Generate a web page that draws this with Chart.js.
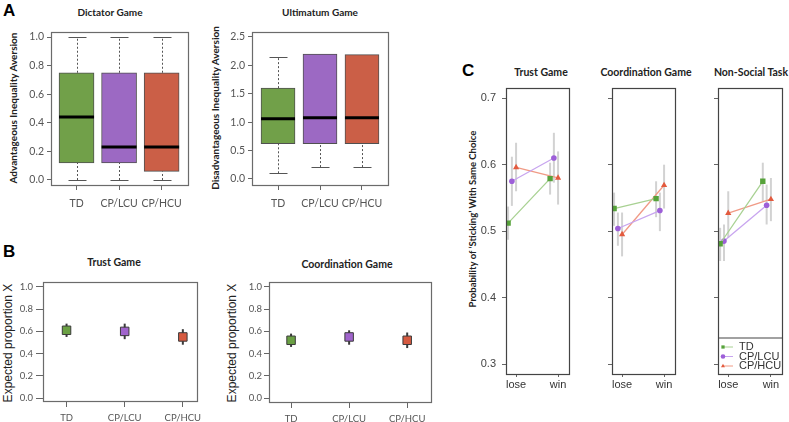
<!DOCTYPE html>
<html>
<head>
<meta charset="utf-8">
<script src="https://cdn.jsdelivr.net/npm/chart.js@4.4.0/dist/chart.umd.min.js"></script>
<style>
  body { margin: 0; background: #fff; width: 789px; height: 422px; overflow: hidden; position: relative; font-family: Lato, sans-serif; }
  canvas { position: absolute; }
  .t { position: absolute; white-space: nowrap; transform: translate(-50%, -50%); color: #222; font-weight: bold; }
  .rot { transform: translate(-50%, -50%) rotate(-90deg); }
  .letter { position: absolute; font: bold 17px "Liberation Sans", Arial, sans-serif; color: #000; }
</style>
</head>
<body>
<div class="letter" style="left:3px;top:1px">A</div>
<div class="letter" style="left:3px;top:242px">B</div>
<div class="letter" style="left:462px;top:61px">C</div>

<div class="t" style="left:110px;top:12px;font-size:10px">Dictator Game</div>
<div class="t" style="left:320px;top:12px;font-size:10px">Ultimatum Game</div>
<div class="t rot" style="left:13px;top:108px;font-size:10px">Advantageous Inequality Aversion</div>
<div class="t rot" style="left:215px;top:108px;font-size:10px">Disadvantageous Inequality Aversion</div>

<div class="t" style="left:114px;top:262px;font-size:10.5px">Trust Game</div>
<div class="t" style="left:347px;top:264px;font-size:10.5px">Coordination Game</div>
<div class="t rot" style="left:8px;top:343px;font:12px 'Liberation Sans',Arial,sans-serif">Expected proportion X</div>
<div class="t rot" style="left:232px;top:343px;font:12px 'Liberation Sans',Arial,sans-serif">Expected proportion X</div>

<div class="t" style="left:541px;top:72px;font-size:10.5px">Trust Game</div>
<div class="t" style="left:646px;top:72px;font-size:10.5px">Coordination Game</div>
<div class="t" style="left:751px;top:72px;font-size:10.5px">Non-Social Task</div>
<div class="t rot" style="left:472px;top:219px;font-size:9.5px">Probability of ‘Sticking’ With Same Choice</div>

<canvas id="dictator"></canvas>
<canvas id="ultimatum"></canvas>
<canvas id="trustB"></canvas>
<canvas id="coordB"></canvas>
<canvas id="trustC"></canvas>
<canvas id="coordC"></canvas>
<canvas id="nonSocialC"></canvas>

<script>
// ---- data ----
const groups = ['TD', 'CP/LCU', 'CP/HCU'];
const outcomes = ['lose', 'win'];

// A: box plots
const dictatorLow = [0, 0, 0];
const dictatorQ1 = [0.12, 0.12, 0.06];
const dictatorMedian = [0.44, 0.23, 0.23];
const dictatorQ3 = [0.75, 0.75, 0.75];
const dictatorHigh = [1, 1, 1];
const dictatorTicks = [0, 0.2, 0.4, 0.6, 0.8, 1.0];

const ultimatumLow = [0.1, 0.21, 0.21];
const ultimatumQ1 = [0.62, 0.62, 0.62];
const ultimatumMedian = [1.06, 1.08, 1.08];
const ultimatumQ3 = [1.6, 2.2, 2.19];
const ultimatumHigh = [2.15, 2.2, 2.19];
const ultimatumTicks = [0, 0.5, 1.0, 1.5, 2.0, 2.5];

// B: expected proportion X
const trustMean = [0.61, 0.60, 0.55];
const trustLow = [0.55, 0.53, 0.48];
const trustHigh = [0.67, 0.67, 0.62];
const coordMean = [0.52, 0.55, 0.52];
const coordLow = [0.46, 0.48, 0.45];
const coordHigh = [0.58, 0.61, 0.59];
const proportionTicks = [0, 0.2, 0.4, 0.6, 0.8, 1.0];

// C: probability of sticking, [group][lose, win]
const trustStick = [[0.512, 0.579], [0.575, 0.610], [0.596, 0.580]];
const trustStickLow = [[0.487, 0.555], [0.538, 0.573], [0.560, 0.540]];
const trustStickHigh = [[0.537, 0.603], [0.612, 0.648], [0.633, 0.620]];
const coordStick = [[0.534, 0.549], [0.504, 0.531], [0.495, 0.569]];
const coordStickLow = [[0.508, 0.521], [0.478, 0.500], [0.462, 0.534]];
const coordStickHigh = [[0.558, 0.575], [0.528, 0.558], [0.528, 0.600]];
const nonSocialStick = [[0.481, 0.575], [0.485, 0.539], [0.527, 0.548]];
const nonSocialStickLow = [[0.455, 0.545], [0.455, 0.510], [0.490, 0.515]];
const nonSocialStickHigh = [[0.505, 0.603], [0.510, 0.570], [0.560, 0.580]];
const stickTicks = [0.3, 0.4, 0.5, 0.6, 0.7];

// ---- styling ----
const boxColors = ['#71a049', '#9c69c3', '#cb5f47'];
const markColors = ['#6aa043', '#a064cc', '#d65a40'];
const strongColors = ['#56a23a', '#9d5fd8', '#e35a3e'];
const lightColors = ['#a8d192', '#c8a5ef', '#f09a85'];
const pointStyles = ['rect', 'circle', 'triangle'];
const pointRadii = [3.8, 2.8, 3.6];
const dodge = [-0.19, -0.1, 0];

function line(ctx, x1, y1, x2, y2) {
  ctx.beginPath(); ctx.moveTo(x1, y1); ctx.lineTo(x2, y2); ctx.stroke();
}

const framePlugin = {
  id: 'frame',
  afterDraw(chart, args, o) {
    const {ctx, chartArea: a} = chart;
    ctx.save();
    ctx.strokeStyle = o.color || '#666';
    ctx.lineWidth = 1.2;
    ctx.strokeRect(Math.round(a.left) + 0.5, Math.round(a.top) + 0.5, Math.round(a.right - a.left), Math.round(a.bottom - a.top));
    ctx.restore();
  }
};

const boxExtras = {
  id: 'boxExtras',
  beforeDatasetsDraw(chart, args, o) {
    if (!o.q1) return;
    const {ctx, scales: {x, y}} = chart;
    ctx.save();
    ctx.strokeStyle = '#555';
    ctx.lineWidth = 1;
    o.q1.forEach((q1, i) => {
      const px = Math.round(x.getPixelForValue(i + 1)) + 0.5;
      ctx.setLineDash([2, 2]);
      [[o.low[i], q1], [o.q3[i], o.high[i]]].forEach(([a, b]) => {
        if (Math.abs(a - b) > 1e-6) line(ctx, px, y.getPixelForValue(a), px, y.getPixelForValue(b));
      });
      ctx.setLineDash([]);
      [o.low[i], o.high[i]].forEach(v => {
        const py = Math.round(y.getPixelForValue(v)) + 0.5;
        line(ctx, px - o.cap, py, px + o.cap, py);
      });
    });
    ctx.restore();
  },
  afterDatasetsDraw(chart, args, o) {
    if (!o.median) return;
    const {ctx, scales: {x, y}} = chart;
    ctx.save();
    ctx.strokeStyle = '#000';
    ctx.lineWidth = 3;
    o.median.forEach((m, i) => {
      const px = x.getPixelForValue(i + 1);
      const py = y.getPixelForValue(m);
      line(ctx, px - o.half, py, px + o.half, py);
    });
    ctx.restore();
  }
};

const errorBars = {
  id: 'errorBars',
  beforeDatasetsDraw(chart, args, o) {
    if (!o.bars) return;
    const {ctx, scales: {x, y}} = chart;
    ctx.save();
    ctx.strokeStyle = o.color;
    ctx.lineWidth = o.width;
    o.bars.forEach(b => {
      const px = x.getPixelForValue(b.x);
      line(ctx, px, y.getPixelForValue(b.lo), px, y.getPixelForValue(b.hi));
    });
    ctx.restore();
  }
};

const cLegend = {
  id: 'cLegend',
  afterDraw(chart, args, o) {
    if (!o.show) return;
    const {ctx, chartArea: a} = chart;
    ctx.save();
    ctx.strokeStyle = '#444';
    ctx.lineWidth = 1.2;
    line(ctx, a.left, a.bottom - 36, a.right, a.bottom - 36);
    ctx.font = '11px "Liberation Sans", Arial, sans-serif';
    ctx.textBaseline = 'middle';
    chart.data.datasets.forEach((ds, i) => {
      const yy = a.bottom - 27 + i * 9.5;
      ctx.strokeStyle = ds.borderColor;
      ctx.lineWidth = 1;
      line(ctx, a.left + 4, yy, a.left + 15, yy);
      ctx.fillStyle = ds.pointBackgroundColor;
      ctx.strokeStyle = ds.pointBackgroundColor;
      Chart.helpers.drawPoint(ctx, {pointStyle: ds.pointStyle, radius: 2.3, rotation: 0, borderWidth: 0}, a.left + 5, yy);
      ctx.fillStyle = '#333';
      ctx.fillText(ds.label, a.left + 21, yy);
    });
    ctx.restore();
  }
};

Chart.register(framePlugin, boxExtras, errorBars, cLegend);

const PAD = 10;
function place(id, area, yw, xh) {
  const c = document.getElementById(id);
  c.width = area.R - area.L + yw + PAD;
  c.height = area.B - area.T + PAD + xh;
  c.style.left = (area.L - yw) + 'px';
  c.style.top = (area.T - PAD) + 'px';
  return c;
}

function yScale(min, max, ticks, tl, pad, yw, font, color, show = true) {
  return {
    type: 'linear', min, max,
    afterBuildTicks: s => { s.ticks = ticks.map(v => ({value: v})); },
    afterFit: s => { s.width = yw; },
    grid: {drawOnChartArea: false, drawTicks: true, tickLength: tl, color: '#666'},
    border: {display: false},
    ticks: {padding: pad, font, color, callback: v => show ? Number(v).toFixed(1) : ''}
  };
}

function xScale(min, max, labels, tl, pad, xh, font, color) {
  return {
    type: 'linear', min, max,
    offset: false,
    afterBuildTicks: s => { s.ticks = labels.map((l, i) => ({value: i + 1})); },
    afterFit: s => { s.height = xh; },
    grid: {offset: false, drawOnChartArea: false, drawTicks: true, tickLength: tl, color: '#666'},
    border: {display: false},
    ticks: {padding: pad, font, color, autoSkip: false, maxRotation: 0, callback: v => labels[Math.round(v) - 1]}
  };
}

const baseOpts = {
  responsive: false,
  animation: false,
  layout: {padding: {top: PAD, right: PAD, left: 0, bottom: 0}},
};

// ---- A: box plots ----
const tickFontA = {family: 'Lato', size: 10.5};
function boxChart(id, area, q1, q3, med, low, high, yMin, yMax, ticks, xMin, xMax, thick) {
  place(id, area, 40, 30);
  new Chart(document.getElementById(id), {
    type: 'bar',
    data: {
      datasets: [{
        data: groups.map((g, i) => ({x: i + 1, y: [q1[i], q3[i]]})),
        backgroundColor: boxColors,
        borderColor: '#505050',
        borderWidth: 1,
        borderSkipped: false,
        barThickness: thick
      }]
    },
    options: {
      ...baseOpts,
      plugins: {
        legend: {display: false}, tooltip: {enabled: false},
        frame: {color: '#6b6b6b'},
        boxExtras: {q1, q3, median: med, low, high, cap: 9, half: thick / 2}
      },
      scales: {
        x: xScale(xMin, xMax, groups, 5, 7, 30, tickFontA, '#555'),
        y: yScale(yMin, yMax, ticks, 4, 3, 40, tickFontA, '#555')
      }
    }
  });
}
boxChart('dictator', {L: 51, T: 32, R: 188, B: 185}, dictatorQ1, dictatorQ3, dictatorMedian, dictatorLow, dictatorHigh,
  -0.035, 1.035, dictatorTicks, 0.4, 3.62, 35);
boxChart('ultimatum', {L: 252, T: 32, R: 388, B: 185}, ultimatumQ1, ultimatumQ3, ultimatumMedian, ultimatumLow, ultimatumHigh,
  -0.106, 2.588, ultimatumTicks, 0.38, 3.62, 34);

// ---- B: point + error bar ----
const tickFontB = {family: 'Lato', size: 9.5};
function pointChart(id, area, mean, lo, hi, yMin, xMin, xMax, tl, pad) {
  place(id, area, 30, 21);
  new Chart(document.getElementById(id), {
    type: 'scatter',
    data: {
      datasets: [{
        data: groups.map((g, i) => ({x: i + 1, y: mean[i]})),
        pointStyle: 'rect',
        pointRadius: 6,
        pointBackgroundColor: markColors,
        pointBorderColor: '#3a3a3a',
        pointBorderWidth: 1
      }]
    },
    options: {
      ...baseOpts,
      plugins: {
        legend: {display: false}, tooltip: {enabled: false},
        frame: {color: '#6b6b6b'},
        errorBars: {bars: groups.map((g, i) => ({x: i + 1, lo: lo[i], hi: hi[i]})), color: '#3a3a3a', width: 2}
      },
      scales: {
        x: xScale(xMin, xMax, groups, 6, 5, 21, tickFontB, '#555'),
        y: yScale(yMin, 1.045, proportionTicks, tl, pad, 30, tickFontB, '#555')
      }
    }
  });
}
pointChart('trustB', {L: 43, T: 282, R: 197, B: 401}, trustMean, trustLow, trustHigh, -0.027, 0.595, 3.24, 7, 3);
pointChart('coordB', {L: 269, T: 282, R: 431, B: 402}, coordMean, coordLow, coordHigh, -0.036, 0.62, 3.41, 5, 2);

// ---- C: sticking probability ----
const tickFontC = {family: 'Liberation Sans', size: 11};
function stickChart(id, area, stick, lo, hi, showY, legend) {
  const yw = showY ? 30 : 8;
  place(id, area, yw, 20);
  const bars = [];
  groups.forEach((g, i) => outcomes.forEach((o, j) => bars.push({x: j + 1 + dodge[i], lo: lo[i][j], hi: hi[i][j]})));
  new Chart(document.getElementById(id), {
    type: 'scatter',
    data: {
      datasets: groups.map((g, i) => ({
        label: g,
        data: outcomes.map((o, j) => ({x: j + 1 + dodge[i], y: stick[i][j]})),
        showLine: true,
        borderColor: lightColors[i],
        borderWidth: 1.3,
        pointStyle: pointStyles[i],
        pointRadius: pointRadii[i],
        pointBackgroundColor: strongColors[i],
        pointBorderColor: strongColors[i],
        pointBorderWidth: 0
      }))
    },
    options: {
      ...baseOpts,
      plugins: {
        legend: {display: false}, tooltip: {enabled: false},
        frame: {color: '#444'},
        errorBars: {bars, color: '#d2d2d2', width: 2},
        cLegend: {show: legend}
      },
      scales: {
        x: xScale(0.76, 2.26, outcomes, 3, 1, 20, tickFontC, '#333'),
        y: yScale(0.285, 0.716, stickTicks, 4, 6, yw, tickFontC, '#444', showY)
      }
    }
  });
}
stickChart('trustC', {L: 506, T: 85, R: 569, B: 374}, trustStick, trustStickLow, trustStickHigh, true, false);
stickChart('coordC', {L: 612, T: 85, R: 675, B: 374}, coordStick, coordStickLow, coordStickHigh, false, false);
stickChart('nonSocialC', {L: 718, T: 85, R: 782, B: 374}, nonSocialStick, nonSocialStickLow, nonSocialStickHigh, false, true);
</script>
</body>
</html>
